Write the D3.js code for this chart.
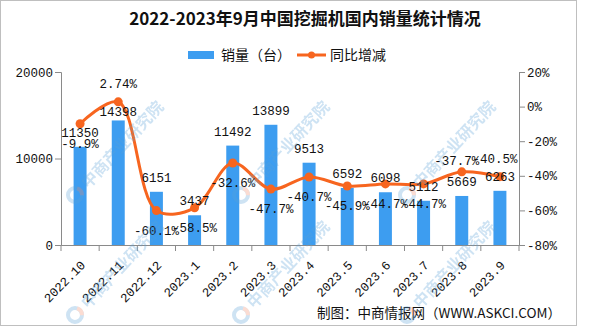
<!DOCTYPE html>
<html><head><meta charset="utf-8">
<script src="https://cdn.jsdelivr.net/npm/d3@7"></script>
<style>
html,body{margin:0;padding:0;background:#fff;}
svg{display:block;}
</style></head>
<body>
<svg id="chart" width="590" height="327"></svg>
<script>
const categories = ["2022.10","2022.11","2022.12","2023.1","2023.2","2023.3","2023.4","2023.5","2023.6","2023.7","2023.8","2023.9"];
const sales = [11350,14398,6151,3437,11492,13899,9513,6592,6098,5112,5669,6263];
const yoy = [-9.9,2.74,-60.1,-58.5,-32.6,-47.7,-40.7,-45.9,-44.7,-44.7,-37.7,-40.5];
const yoyLabels = ["-9.9%","2.74%","-60.1%","-58.5%","-32.6%","-47.7%","-40.7%","-45.9%","-44.7%","-44.7%","-37.7%","-40.5%"];
const yoyLabelSide = ["below","above","below","below","below","below","below","below","below","below","above","above"];
const salesTicks = [0,10000,20000];
const yoyTicks = [20,0,-20,-40,-60,-80];
const watermarkText = "中商产业研究院";

const svg = d3.select("#chart");
const m = {left:61, right:519, top:72, bottom:245};
const barColor = "#3D9DF0", lineColor = "#F7651F", axisColor = "#8a8a8a";
const monoFont = "'Liberation Mono', 'DejaVu Sans Mono', monospace";
const cjkFont = "'Noto Sans CJK SC', sans-serif";

// border
svg.append("rect").attr("x",0.5).attr("y",0.5).attr("width",576).attr("height",325)
  .attr("fill","#fff").attr("stroke","#bfbfbf").attr("stroke-width",1);

const x = d3.scaleBand().domain(categories).range([m.left, m.right]).paddingInner(0.66).paddingOuter(0.33);
const xc = d3.scaleBand().domain(categories).range([m.left, m.right]);
const yL = d3.scaleLinear().domain([0,20000]).range([m.bottom, m.top]);
const yR = d3.scaleLinear().domain([-80,20]).range([m.bottom, m.top]);

// title
svg.append("text").attr("x",305).attr("y",25).attr("text-anchor","middle")
  .attr("font-family",cjkFont).attr("font-weight","bold").attr("font-size",17).attr("fill","#111")
  .text("2022-2023年9月中国挖掘机国内销量统计情况");

// legend
const lg = svg.append("g");
lg.append("rect").attr("x",188).attr("y",51).attr("width",26).attr("height",8).attr("fill",barColor);
lg.append("text").attr("x",221).attr("y",60).attr("font-family",cjkFont).attr("font-size",14).attr("fill","#111").text("销量（台）");
lg.append("line").attr("x1",297).attr("x2",326).attr("y1",55).attr("y2",55).attr("stroke",lineColor).attr("stroke-width",3);
lg.append("circle").attr("cx",311.5).attr("cy",55).attr("r",3.5).attr("fill",lineColor);
lg.append("text").attr("x",330).attr("y",60).attr("font-family",cjkFont).attr("font-size",14).attr("fill","#111").text("同比增减");

// axes
const axL = d3.axisLeft(yL).tickValues(salesTicks).tickSize(6).tickFormat(d3.format("d"));
const gL = svg.append("g").attr("transform",`translate(${m.left},0)`).call(axL);
const axR = d3.axisRight(yR).tickValues(yoyTicks).tickSize(6).tickFormat(d => d + "%");
const gR = svg.append("g").attr("transform",`translate(${m.right},0)`).call(axR);
const axB = d3.axisBottom(xc).tickSize(0).tickFormat("");
const gB = svg.append("g").attr("transform",`translate(0,${m.bottom})`).call(axB);
gB.selectAll(".bt").data(d3.range(categories.length+1)).enter().append("line")
  .attr("x1",i => m.left + i*xc.step()).attr("x2",i => m.left + i*xc.step())
  .attr("y1",0).attr("y2",6).attr("stroke",axisColor);
[gL,gR,gB].forEach(g => {
  g.select(".domain").attr("stroke",axisColor);
  g.selectAll(".tick line").attr("stroke",axisColor);
  g.selectAll(".tick text").attr("font-family",monoFont).attr("font-size",12.5).attr("fill","#111");
});
gL.selectAll(".tick text").attr("x",-8);
gR.selectAll(".tick text").attr("x",8);

// x labels rotated
svg.append("g").selectAll("text").data(categories).enter().append("text")
  .attr("transform",d => `translate(${xc(d)+xc.bandwidth()/2+6},${m.bottom+21}) rotate(-45)`)
  .attr("text-anchor","end").attr("font-family",monoFont).attr("font-size",12.5).attr("fill","#111")
  .text(d => d);

// bars
svg.append("g").selectAll("rect").data(sales).enter().append("rect")
  .attr("x",(d,i)=>x(categories[i])).attr("width",x.bandwidth())
  .attr("y",d=>yL(d)).attr("height",d=>m.bottom - yL(d)).attr("fill",barColor);

// line
const pts = yoy.map((v,i)=>[xc(categories[i])+xc.bandwidth()/2, yR(v)]);
svg.append("path").attr("d",d3.line().curve(d3.curveCatmullRom.alpha(0.5))(pts))
  .attr("fill","none").attr("stroke",lineColor).attr("stroke-width",3);
svg.append("g").selectAll("circle").data(pts).enter().append("circle")
  .attr("cx",d=>d[0]).attr("cy",d=>d[1]).attr("r",4.5).attr("fill",lineColor);

// bar value labels
svg.append("g").selectAll("text").data(sales).enter().append("text")
  .attr("x",(d,i)=>xc(categories[i])+xc.bandwidth()/2)
  .attr("y",(d,i)=>yL(d) - (i===1 ? 4 : 10))
  .attr("text-anchor","middle").attr("font-family",monoFont).attr("font-size",12.5).attr("fill","#111")
  .text(d=>d);

// yoy labels
svg.append("g").selectAll("text").data(yoy).enter().append("text")
  .attr("x",(d,i)=>xc(categories[i])+xc.bandwidth()/2 - (yoyLabelSide[i]==="above" && i>1 ? 5 : 0))
  .attr("y",(d,i)=>yR(d) + (yoyLabelSide[i]==="above" ? (i===10 ? -7 : -14) : 24))
  .attr("text-anchor","middle").attr("font-family",monoFont).attr("font-size",12.5).attr("fill","#111")
  .text((d,i)=>yoyLabels[i]);

// footer
svg.append("text").attr("x",561).attr("y",318).attr("text-anchor","end")
  .attr("font-family",cjkFont).attr("font-size",13.5).attr("fill","#111")
  .text("制图：中商情报网（WWW.ASKCI.COM）");

// watermarks (only those lying fully inside the picture)
const wmCols = [75, 241, 407];
const wmRows = [195, 315];
const wm = svg.append("g").attr("opacity",0.3).attr("pointer-events","none");
wmRows.forEach(wy => wmCols.forEach(wx => {
  const g = wm.append("g").attr("transform",`translate(${wx},${wy})`);
  g.append("circle").attr("r",7).attr("fill","none").attr("stroke","#5aa0d8").attr("stroke-width",4);
  g.append("path").attr("d",d3.arc()({innerRadius:5,outerRadius:9,startAngle:0.3,endAngle:1.6})).attr("fill","#f08a6a");
  g.append("text").attr("transform","rotate(-47)").attr("x",13).attr("y",6)
    .attr("font-family",cjkFont).attr("font-weight","bold").attr("font-size",16).attr("fill","#5aa0d8")
    .text(watermarkText);
}));
</script>
</body></html>
